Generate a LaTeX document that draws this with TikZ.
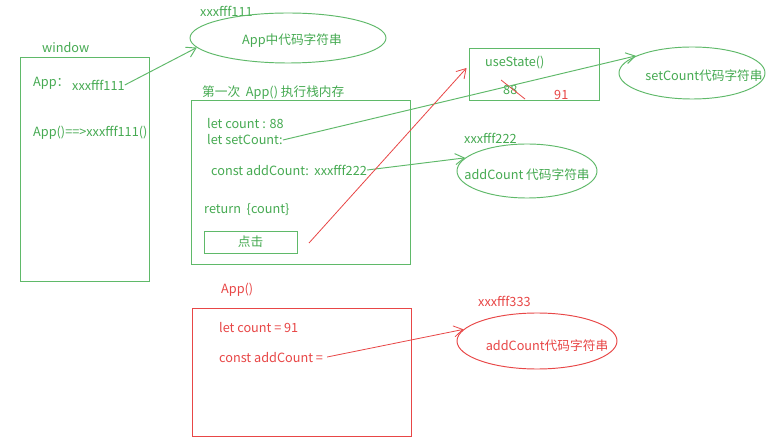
\documentclass[tikz,border=0pt]{standalone}
\usepackage{fontspec}
\setmainfont{Noto Sans CJK SC}
\usetikzlibrary{shapes.geometric,arrows.meta}
\definecolor{gr}{RGB}{70,170,82}
\definecolor{gl}{RGB}{95,185,105}
\definecolor{rd}{RGB}{232,70,70}
\begin{document}
\begin{tikzpicture}[x=1pt,y=-1pt,
  every node/.style={font=\fontsize{12.7}{15}\selectfont},
  txt/.style={inner sep=0pt, anchor=west},
  gt/.style={txt, text=gr},
  rt/.style={txt, text=rd},
  gbox/.style={draw=gl, line width=0.95pt, rectangle, inner sep=0pt},
  rbox/.style={draw=rd, line width=0.95pt, rectangle, inner sep=0pt},
  gell/.style={draw=gl, line width=0.95pt, ellipse, inner sep=0pt},
  rell/.style={draw=rd, line width=0.95pt, ellipse, inner sep=0pt},
  garr/.style={draw=gl, line width=0.95pt, -{Straight Barb[length=9pt,width=11pt]}},
  rarr/.style={draw=rd, line width=0.8pt, -{Straight Barb[length=9pt,width=11pt]}},
]
\useasboundingbox[fill=white] (0,0) rectangle (770,443);

% window
\node[gt] (wlab) at (42,48) {window};
\node[gbox, minimum width=129pt, minimum height=224pt] (win) at (84.5,169) {};
\node[gt] (appk) at (33,83) {App：};
\node[gt] (xf1) at (72,85) {xxxfff111};
\node[gt] (call) at (33,133) {App()==>xxxfff111()};

% ellipse 1
\node[gt] (l111) at (200,11) {xxxfff111};
\node[gell, minimum width=196pt, minimum height=50pt] (e1) at (288,38) {};
\node[text=gr, inner sep=0pt] (e1t) at (292,41) {App中代码字符串};
\draw[garr] (xf1.east) -- (e1.186);

% first run stack
\node[gt] (stk) at (202,93) {第一次\ \ App() 执行栈内存};
\node[gbox, minimum width=219pt, minimum height=164pt] (run) at (300.5,182) {};
\node[gt] (c88) at (207,124) {let count : 88};
\node[gt] (sc) at (207,140) {let setCount:};
\node[gt] (ac) at (211,170) {const addCount:\ \ xxxfff222};
\node[gt] (ret) at (204,210) {return\ \ \{count\}};
\node[gbox, minimum width=93pt, minimum height=22pt, text=gr] (btn) at (250.5,242) {点击};

% useState
\node[gbox, minimum width=130pt, minimum height=52pt] (us) at (534,74) {};
\node[gt] (ust) at (485,63) {useState()};
\node[gt] (n88) at (503,90) {88};
\node[rt] (n91) at (554,95) {91};
\draw[rd, line width=0.8pt] (501,80) -- (525,99);

% setCount ellipse
\node[gell, minimum width=146pt, minimum height=52pt] (e2) at (692,73) {};
\node[text=gr, inner sep=0pt] (e2t) at (704,76) {setCount代码字符串};
\draw[garr] (sc.east) -- (e2.163);

% addCount ellipse
\node[gt] (l222) at (464,138) {xxxfff222};
\node[gell, minimum width=140pt, minimum height=54pt] (e3) at (527,171) {};
\node[text=gr, inner sep=0pt] (e3t) at (527,175) {addCount 代码字符串};
\draw[garr] (ac.east) -- (e3.168);

% red click arrow
\coordinate (clk) at (309,243);
\draw[rarr] (clk) -- ([xshift=-2pt,yshift=6pt]us.west);

% second App()
\node[rt] (app2) at (221,290) {App()};
\node[rbox, minimum width=219pt, minimum height=128pt] (run2) at (301.5,372) {};
\node[rt] (c91) at (219,328) {let count = 91};
\node[rt] (ac2) at (219,358) {const addCount =};
\node[rt] (l333) at (478,301) {xxxfff333};
\node[rell, minimum width=160pt, minimum height=56pt] (e4) at (537,341) {};
\node[text=rd, inner sep=0pt] (e4t) at (547,346) {addCount代码字符串};
\draw[rarr] ([xshift=4pt,yshift=1pt]ac2.east) -- (e4.171);
\end{tikzpicture}
\end{document}
